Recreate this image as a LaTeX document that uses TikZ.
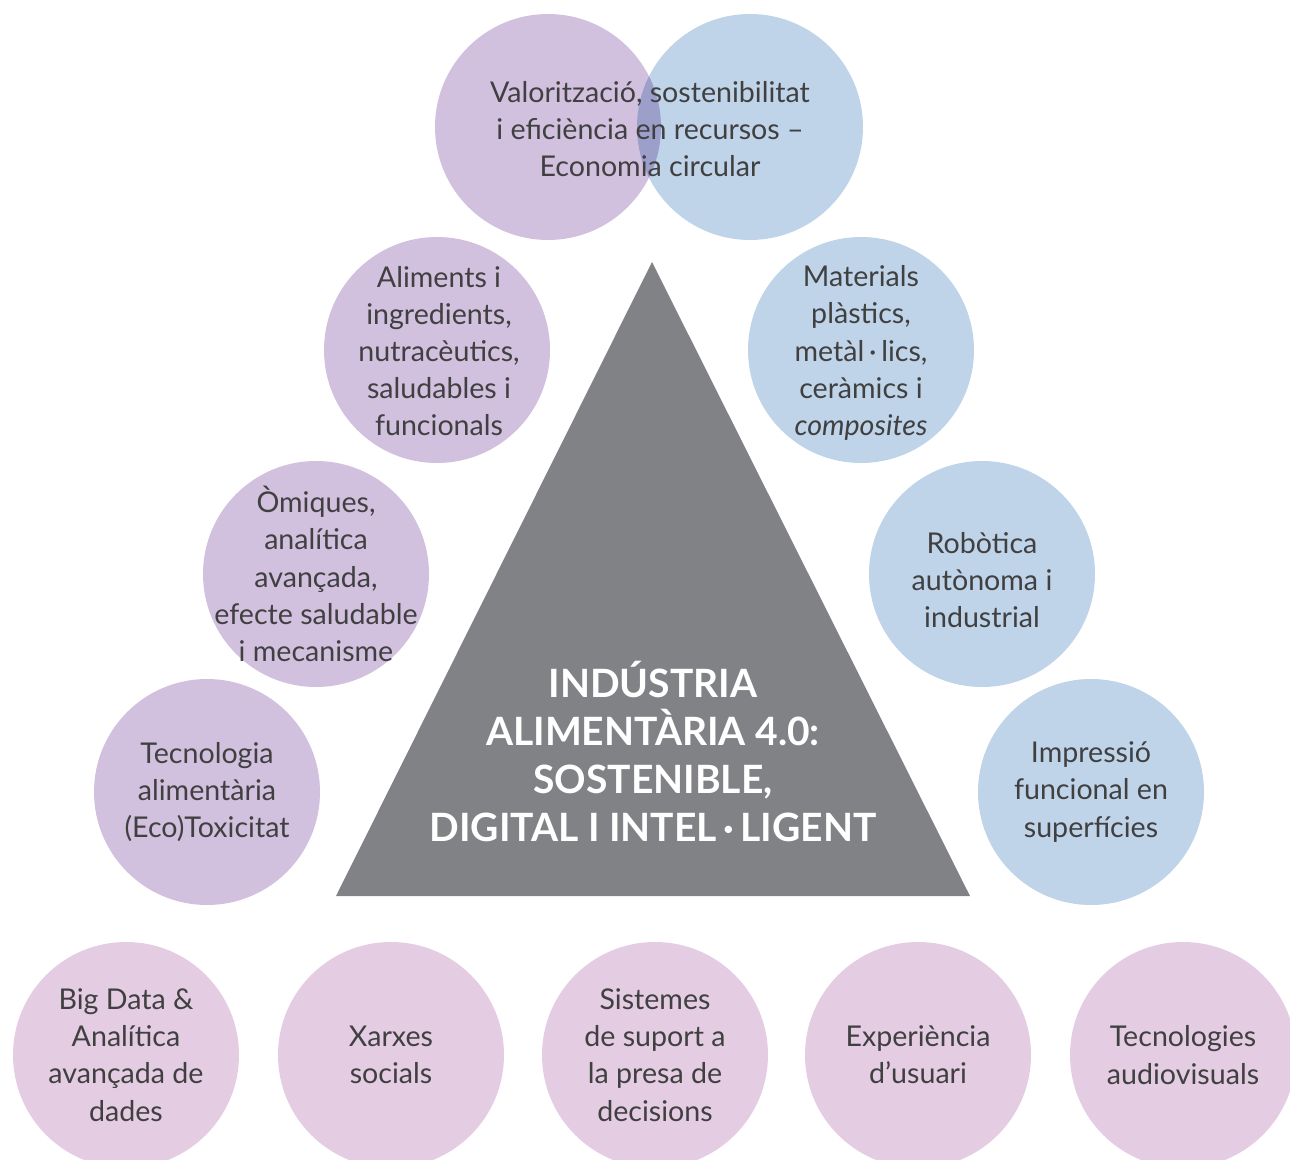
\documentclass[tikz,border=0pt]{standalone}
\usepackage{fontspec}
\setmainfont{Lato}
\definecolor{purp}{HTML}{D2C0DF}
\definecolor{blu}{HTML}{BFD4E9}
\definecolor{pnk}{HTML}{E4CCE3}
\definecolor{tri}{HTML}{808285}
\definecolor{ink}{HTML}{404041}
\tikzset{
  circ/.style={circle, minimum size=113pt, inner sep=0pt, draw=none},
  txt/.style={align=center, text=ink, font=\fontsize{14.3}{18.6}\selectfont, inner sep=0pt},
  ttl/.style={align=center, text=white, font=\bfseries\fontsize{19.5}{24}\selectfont, inner sep=0pt}
}
\begin{document}
\begin{tikzpicture}[x=0.5pt,y=-0.5pt]
\useasboundingbox (0,0) rectangle (1290,1160);
\clip (0,0) rectangle (1290,1160);
% top pair
\node[circ, fill=purp] (tp) at (548,127) {};
\begin{scope}[blend mode=multiply]
\node[circ, fill=blu] (tb) at (750,127) {};
\end{scope}
\node[txt] (ttxt) at (650,129) {Valorització, sostenibilitat\\i eficiència en recursos –\\Economia circular};
% triangle
\coordinate (apex) at (652,262);
\coordinate (bl) at (336,896);
\coordinate (br) at (970,896);
\fill[tri] (apex) -- (br) -- (bl) -- cycle;
\node[ttl] (title) at (653,752) {INDÚSTRIA\\ALIMENTÀRIA 4.0:\\SOSTENIBLE,\\DIGITAL I INTEL\,·\,LIGENT};
% left purple
\node[circ, fill=purp] (l1) at (437,350) {};
\node[txt] at (439,351) {Aliments i\\ingredients,\\nutracèutics,\\saludables i\\funcionals};
\node[circ, fill=purp] (l2) at (316,574) {};
\node[txt] at (l2.center) {Òmiques,\\analítica\\avançada,\\efecte saludable\\i mecanisme};
\node[circ, fill=purp] (l3) at (207,792) {};
\node[txt] at (l3.center) {Tecnologia\\alimentària\\(Eco)Toxicitat};
% right blue
\node[circ, fill=blu] (r1) at (861,350) {};
\node[txt] at (861,353) {Materials\\plàstics,\\metàl\,·\,lics,\\ceràmics i\\\textit{composites}};
\node[circ, fill=blu] (r2) at (982,574) {};
\node[txt] at (982,580) {Robòtica\\autònoma i\\industrial};
\node[circ, fill=blu] (r3) at (1091,792) {};
\node[txt] at (r3.center) {Impressió\\funcional en\\superfícies};
% bottom pink
\node[circ, fill=pnk] (b1) at (126,1055) {};
\node[txt] at (b1.center) {Big Data \&\\Analítica\\avançada de\\dades};
\node[circ, fill=pnk] (b2) at (391,1055) {};
\node[txt] at (b2.center) {Xarxes\\socials};
\node[circ, fill=pnk] (b3) at (655,1055) {};
\node[txt] at (b3.center) {Sistemes\\de suport a\\la presa de\\decisions};
\node[circ, fill=pnk] (b4) at (918,1055) {};
\node[txt] at (b4.center) {Experiència\\d’usuari};
\node[circ, fill=pnk] (b5) at (1183,1055) {};
\node[txt] at (b5.center) {Tecnologies\\audiovisuals};
\end{tikzpicture}
\end{document}
